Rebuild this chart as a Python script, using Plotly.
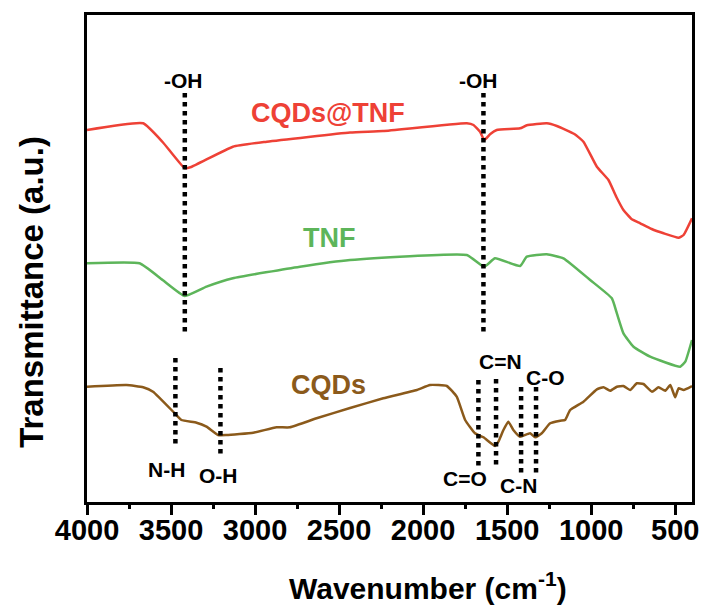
import plotly.graph_objects as go

# ---------------- data (arbitrary transmittance units) -------------
wn_red = [4000, 3666, 3550, 3418, 3380, 3132, 2930, 2435, 2239, 1740, 1700, 1660, 1636, 1600,
          1562, 1423, 1383, 1264, 1204, 1100, 1046, 966, 897, 850, 808, 760, 708, 640, 569,
          480, 450, 400]
t_red = [372, 378.7, 360, 333.7, 335, 355.3, 360.3, 369.5, 371, 378.7, 377, 370, 362, 368,
         372, 373.7, 376.7, 378.7, 376, 368, 360.3, 335.3, 322, 305, 292, 283, 278.7, 273, 268.7,
         264.3, 267, 283.7]

wn_green = [4000, 3687, 3550, 3418, 3289, 3132, 2733, 2435, 1740, 1636, 1572, 1423, 1383, 1264,
            1165, 1006, 877, 847, 808, 748, 649, 470, 440, 400]
t_green = [238.7, 238.7, 222, 206, 215.3, 223.7, 235.3, 242, 247, 235.3, 243.7, 236, 245.3, 247.7,
           243.7, 222, 203.7, 188.7, 168.7, 155.3, 145.3, 135.3, 140.3, 162]

wn_brown = [4000, 3765, 3666, 3607, 3478, 3438, 3348, 3289, 3220, 3170, 3011, 2872, 2793,
            2634, 2435, 2237, 2038, 1959, 1859, 1800, 1750, 1691, 1641, 1572, 1552, 1522,
            1493, 1463, 1423, 1363, 1333, 1294, 1244, 1184, 1155, 1125, 1046, 966, 927, 887,
            847, 808, 768, 728, 689, 638, 599, 559, 529, 500, 480, 450, 400]
t_brown = [115.3, 117, 114.7, 110.3, 88.7, 82, 79.3, 75.3, 67, 67, 69.3, 74.7, 74.7,
           83.7, 94, 103.7, 112, 117, 116, 105.3, 82, 68.7, 64.7, 56, 60.3, 72,
           80.3, 72, 65.3, 68.7, 64.7, 68.7, 78.7, 81.3, 82, 92, 100.3, 112.7, 114.7, 111.3,
           115.3, 116, 112, 118.7, 118, 110.3, 114.7, 111.3, 117, 104.7, 113.7, 112, 116]

series_names = ["CQDs@TNF", "TNF", "CQDs"]
series_colors = ["#EE4136", "#5DB55A", "#8B5A1B"]
series_label_pos = [(2564, 389), (2560, 264), (2564, 117)]

# peak markers: (wavenumber, y_start, y_end)
peak_lines = [(3418, 409, 167), (1641, 409, 169), (3474, 144, 57), (3206, 134, 47),
              (1671, 122, 35), (1566, 123, 37), (1417, 115, 29), (1328, 115, 29)]
peak_labels = ["-OH", "-OH", "N-H", "O-H", "C=O", "C=N", "C-N", "C-O"]
peak_label_pos = [(3426, 422), (1673, 422), (3524, 33), (3216, 27),
                  (1750, 23.7), (1542, 141), (1433, 17), (1274, 124.7)]

x_ticks = [4000, 3500, 3000, 2500, 2000, 1500, 1000, 500]

# ---------------- figure -------------
fig = go.Figure()
for wn, t, name, col in zip([wn_red, wn_green, wn_brown], [t_red, t_green, t_brown],
                            series_names, series_colors):
    fig.add_trace(go.Scatter(x=wn, y=t, mode="lines", name=name,
                             line=dict(color=col, width=2.5, shape="spline", smoothing=0.4),
                             showlegend=False))

for (w, y0, y1) in peak_lines:
    fig.add_trace(go.Scatter(x=[w, w], y=[y0, y1], mode="lines", showlegend=False,
                             line=dict(color="black", width=4.5, dash="dot")))

font_family = "Liberation Sans, Arial, sans-serif"
annotations = []
for name, col, (x, y) in zip(series_names, series_colors, series_label_pos):
    annotations.append(dict(x=x, y=y, xref="x", yref="y", text=f"<b>{name}</b>",
                            showarrow=False, font=dict(family=font_family, size=27, color=col)))
for lab, (x, y) in zip(peak_labels, peak_label_pos):
    annotations.append(dict(x=x, y=y, xref="x", yref="y", text=f"<b>{lab}</b>", showarrow=False,
                            font=dict(family=font_family, size=21, color="black")))
annotations.append(dict(x=0.5636, y=-0.1725, xref="paper", yref="paper",
                        xanchor="center", yanchor="middle",
                        text="<b>Wavenumber (cm<sup>-1</sup>)</b>", showarrow=False,
                        font=dict(family=font_family, size=30, color="black")))
annotations.append(dict(x=-0.093, y=0.431, xref="paper", yref="paper", textangle=-90,
                        xanchor="center", yanchor="middle",
                        text="<b>Transmittance (a.u.)</b>", showarrow=False,
                        font=dict(family=font_family, size=33, color="black")))

fig.update_layout(
    width=702, height=605,
    margin=dict(l=87, r=10, t=15, b=103, autoexpand=False),
    paper_bgcolor="white", plot_bgcolor="white",
    annotations=annotations,
    xaxis=dict(range=[4000, 400], tickmode="array", tickvals=x_ticks,
               ticktext=[f"<b>{v}</b>" for v in x_ticks], automargin=False,
               showgrid=False, zeroline=False, showline=True, linecolor="black",
               linewidth=3, mirror=True, ticks="outside", ticklen=10, tickwidth=3,
               tickcolor="black", ticklabelstandoff=-10,
               minor=dict(ticks="outside", ticklen=4, tickwidth=3, tickcolor="black",
                          dtick=250, tick0=0, showgrid=False),
               tickfont=dict(family=font_family, size=29, color="black")),
    yaxis=dict(range=[0, 487], showticklabels=False, showgrid=False, zeroline=False,
               automargin=False,
               showline=True, linecolor="black", linewidth=3, mirror=True, ticks=""),
)

fig.write_html("out.html", config={"displayModeBar": False},
               post_script="document.body.style.margin='0';document.body.style.padding='0';")
